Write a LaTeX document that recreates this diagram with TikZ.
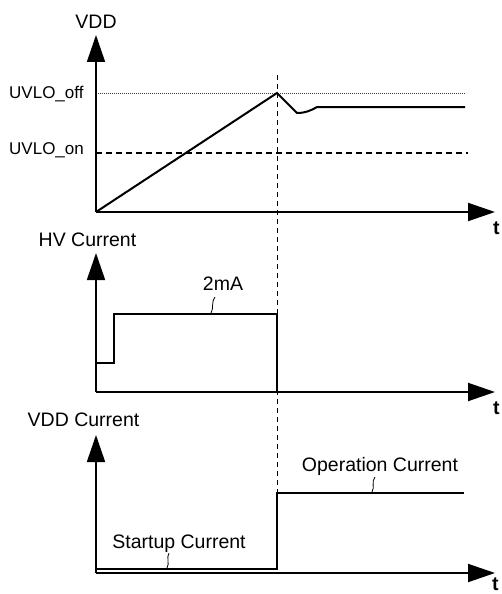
\documentclass[tikz,border=0pt]{standalone}
\usepackage{fontspec}
\setmainfont{Liberation Sans}
\usetikzlibrary{arrows.meta}
\begin{document}
\begin{tikzpicture}[x=1pt,y=-1pt,
  axis/.style={line width=2pt,-{Triangle[length=27pt,width=18pt]}},
  yaxis/.style={line width=1.7pt,-{Triangle[length=27pt,width=18pt]}},
  wave/.style={line width=2pt,line join=miter},
  thinwave/.style={line width=1.6pt,line join=miter},
  lbl/.style={font=\fontsize{19.5}{22}\selectfont,inner sep=0pt,anchor=base},
  small/.style={font=\fontsize{17}{20}\selectfont,inner sep=0pt,anchor=base west},
  tlbl/.style={font=\fontsize{19.5}{22}\selectfont\bfseries,inner sep=0pt,anchor=base west},
  leader/.style={line width=0.8pt},
  vdash/.style={line width=1pt,dash pattern=on 5pt off 4pt},
  hdash/.style={line width=1.2pt,dash pattern=on 6pt off 4pt},
  hdot/.style={line width=0.8pt,black!75,dash pattern=on 1pt off 1pt}]
\useasboundingbox (0,0) rectangle (501,594);
\fill[white] (0,0) rectangle (501,594);

% ---------- Panel 1: VDD ----------
\coordinate (o1) at (96,212);
\coordinate (peak) at (277,93);
\draw[hdot] (96,93) -- (465,93);
\draw[hdash] (96,153) -- (468,153);
\draw[yaxis] (o1) -- (96,35);
\draw[axis] (o1) -- (495,212);
\node[lbl] (vdd) at (96,29) {VDD};
\node[small] (uoff) at (9,98) {UVLO\_off};
\node[small] (uon) at (9,154) {UVLO\_on};
\node[tlbl] (t1) at (493,234) {t};
\draw[wave] (o1) -- (peak) -- (297,113)
  .. controls (305,113) and (310,111) .. (317,107) -- (465,107);

% ---------- vertical dashed marker ----------
\draw[vdash] (277,75) -- (277,493);

% ---------- Panel 2: HV Current ----------
\coordinate (o2) at (96,392);
\draw[yaxis] (o2) -- (96,253);
\draw[axis] (o2) -- (495,392);
\node[lbl] (hv) at (87.5,246) {HV Current};
\node[tlbl] (t2) at (493,414) {t};
\draw[wave] (96,363) -- (114,363) -- (114,314) -- (277,314) -- (277,392);
\node[lbl] (ma) at (223,290) {2mA};
\draw[leader] (211,313) .. controls (214,308) and (211,302) .. (215,297);

% ---------- Panel 3: VDD Current ----------
\coordinate (o3) at (96,573);
\draw[yaxis] (o3) -- (96,435);
\draw[axis] (o3) -- (495,573);
\node[lbl] (vddc) at (83.5,426) {VDD Current};
\node[tlbl] (t3) at (492,590) {t};
\draw[thinwave] (96,569) -- (277,569) -- (277,493) -- (464,493);
\node[lbl] (su) at (179,548) {Startup Current};
\draw[leader] (167,568) .. controls (170,563) and (166,558) .. (169,553);
\node[lbl] (op) at (380,471) {Operation Current};
\draw[leader] (372,492) .. controls (375,487) and (371,482) .. (375,477);
\end{tikzpicture}
\end{document}
